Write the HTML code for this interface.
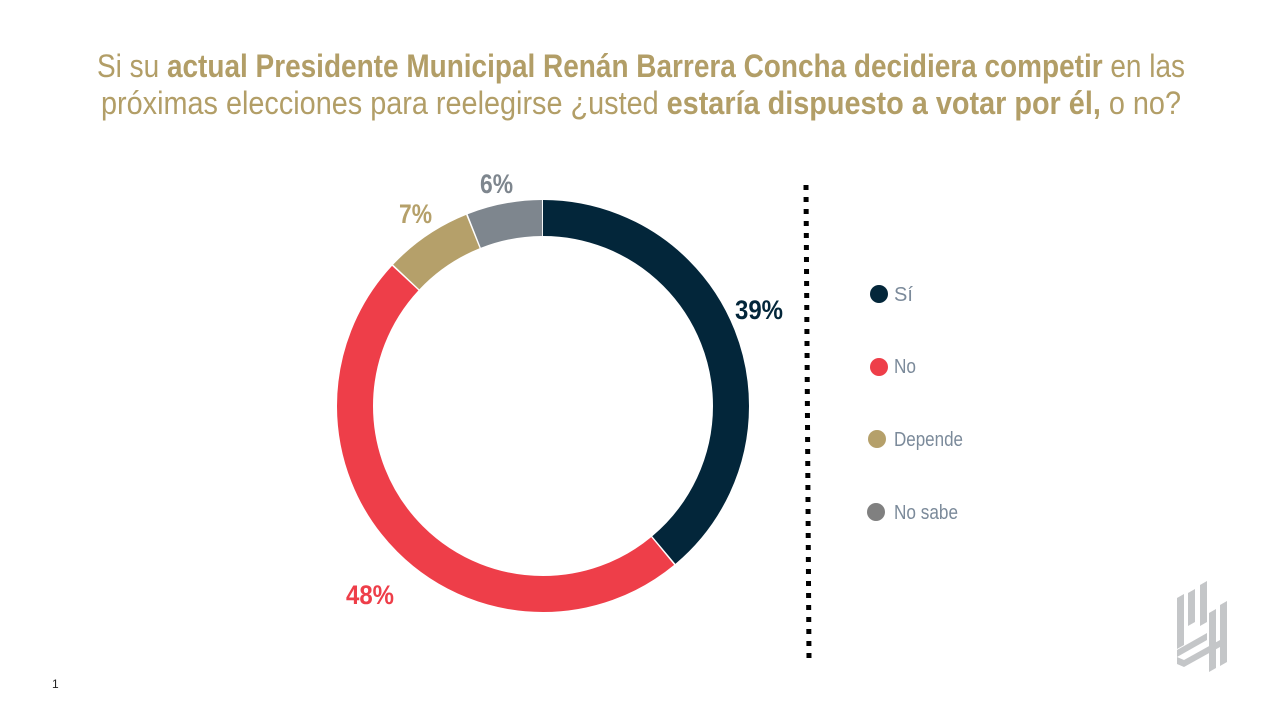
<!DOCTYPE html>
<html><head><meta charset="utf-8"><style>
html,body{margin:0;padding:0;background:#fff;}
svg{display:block;font-family:"Liberation Sans",sans-serif;}
</style></head><body>
<svg width="1280" height="720" viewBox="0 0 1280 720">
<g fill="#b29e67" font-size="32">
<text x="97" y="77" textLength="1088" lengthAdjust="spacingAndGlyphs">Si su <tspan font-weight="bold">actual Presidente Municipal Renán Barrera Concha decidiera competir</tspan> en las</text>
<text x="101" y="114" textLength="1080" lengthAdjust="spacingAndGlyphs">próximas elecciones para reelegirse ¿usted <tspan font-weight="bold">estaría dispuesto a votar por él,</tspan> o no?</text>
</g>
<g transform="rotate(-90 543 406)" fill="none" stroke-width="36">
<circle cx="543" cy="406" r="188" stroke="#03263a" stroke-dasharray="459.2 2000" stroke-dashoffset="0"/>
<circle cx="543" cy="406" r="188" stroke="#ee3e49" stroke-dasharray="565.5 2000" stroke-dashoffset="-460.7"/>
<circle cx="543" cy="406" r="188" stroke="#b5a06a" stroke-dasharray="81.2 2000" stroke-dashoffset="-1027.7"/>
<circle cx="543" cy="406" r="188" stroke="#7e868e" stroke-dasharray="69.4 2000" stroke-dashoffset="-1110.4"/>
</g>
<g font-weight="bold" font-size="27">
<text x="735" y="319" fill="#03263a" textLength="48" lengthAdjust="spacingAndGlyphs">39%</text>
<text x="346" y="604" fill="#ee3e49" textLength="48" lengthAdjust="spacingAndGlyphs">48%</text>
<text x="399" y="223" fill="#b5a06a" textLength="33" lengthAdjust="spacingAndGlyphs">7%</text>
<text x="480" y="193" fill="#7e868e" textLength="33" lengthAdjust="spacingAndGlyphs">6%</text>
</g>
<line x1="806" y1="185" x2="809" y2="660" stroke="#000" stroke-width="5" stroke-dasharray="5 7"/>
<g font-size="20" fill="#7b8a9a">
<circle cx="879" cy="294" r="9" fill="#03263a"/><text x="894" y="301">Sí</text>
<circle cx="879" cy="367" r="9" fill="#ee3e49"/><text x="894" y="373" textLength="22" lengthAdjust="spacingAndGlyphs">No</text>
<circle cx="877" cy="439" r="9" fill="#b5a06a"/><text x="894" y="446" textLength="69" lengthAdjust="spacingAndGlyphs">Depende</text>
<circle cx="876" cy="512" r="9" fill="#808080"/><text x="894" y="519" textLength="64" lengthAdjust="spacingAndGlyphs">No sabe</text>
</g>
<g fill="#c4c6c8">
<polygon points="1177,598 1184,594 1184,645 1177,649"/>
<polygon points="1188,593 1195,589 1195,622 1188,626"/>
<polygon points="1200,585 1207,581 1207,622 1200,626"/>
<polygon points="1177,650 1207,633 1207,640 1177,657"/>
<polygon points="1184,660 1220,640 1220,647 1184,667"/>
<polygon points="1209,613 1216,609 1216,668 1209,672"/>
<polygon points="1220,605 1227,601 1227,662 1220,666"/>
<polygon points="1177,657 1184,660 1184,667 1177,664"/>
</g>
<text x="52" y="688" font-size="12" fill="#222">1</text>
</svg>
</body></html>
